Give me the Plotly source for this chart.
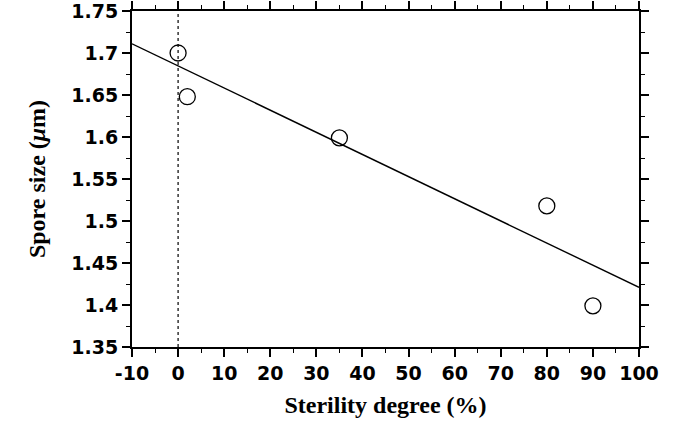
import plotly.graph_objects as go

# measured points
sterility = [0, 2, 35, 80, 90]
spore_size = [1.70, 1.648, 1.599, 1.518, 1.399]

# regression line end points
fit_x = [-10, 100]
fit_y = [1.711, 1.421]

x_ticks = [-10, 0, 10, 20, 30, 40, 50, 60, 70, 80, 90, 100]
x_labels = ['-10', '0', '10', '20', '30', '40', '50', '60', '70', '80', '90', '100']
y_ticks = [1.35, 1.4, 1.45, 1.5, 1.55, 1.6, 1.65, 1.7, 1.75]
y_labels = ['1.35', '1.4', '1.45', '1.5', '1.55', '1.6', '1.65', '1.7', '1.75']

fig = go.Figure()

fig.add_trace(go.Scatter(
    x=[0, 0], y=[1.35, 1.75],
    mode='lines',
    line=dict(color='black', width=1.2, dash='dot'),
    hoverinfo='none'
))

fig.add_trace(go.Scatter(
    x=fit_x, y=fit_y,
    mode='lines',
    line=dict(color='black', width=1.4),
    hoverinfo='none'
))

fig.add_trace(go.Scatter(
    x=sterility, y=spore_size,
    mode='markers',
    marker=dict(symbol='circle-open', size=16, color='black', line=dict(width=1.3)),
))

tick_font = dict(family='DejaVu Sans', size=19, color='black', weight='bold')
title_font = dict(family='Liberation Serif', size=24, color='black', weight='bold')

fig.update_layout(
    width=688, height=434,
    showlegend=False,
    paper_bgcolor='white',
    plot_bgcolor='white',
    margin=dict(l=132, r=49, t=11, b=87),
    xaxis=dict(
        range=[-10, 100],
        tickvals=x_ticks, ticktext=x_labels,
        ticks='outside', ticklen=8, tickwidth=1.5, tickcolor='black',
        minor=dict(ticks='outside', ticklen=4, dtick=5, tick0=-5, tickcolor='black', tickwidth=1.2),
        showline=True, linecolor='black', linewidth=2, mirror='allticks',
        showgrid=False, zeroline=False,
        tickfont=tick_font, automargin=False, ticklabeloverflow='allow',
        title=dict(text='Sterility degree (%)', font=title_font, standoff=13),
    ),
    yaxis=dict(
        range=[1.35, 1.75],
        tickvals=y_ticks, ticktext=y_labels,
        ticks='outside', ticklen=8, tickwidth=1.5, tickcolor='black',
        minor=dict(ticks='outside', ticklen=4, dtick=0.025, tick0=1.35, tickcolor='black', tickwidth=1.2),
        showline=True, linecolor='black', linewidth=2, mirror='allticks',
        showgrid=False, zeroline=False,
        tickfont=tick_font, automargin=False, ticklabeloverflow='allow',
        title=dict(text='Spore size (<i>μ</i>m)', font=title_font, standoff=19),
    ),
)

# drop the default body margin so the figure fills the window exactly
fig.write_html('out.html', config={'displayModeBar': False},
               post_script="document.body.style.margin='0';")
